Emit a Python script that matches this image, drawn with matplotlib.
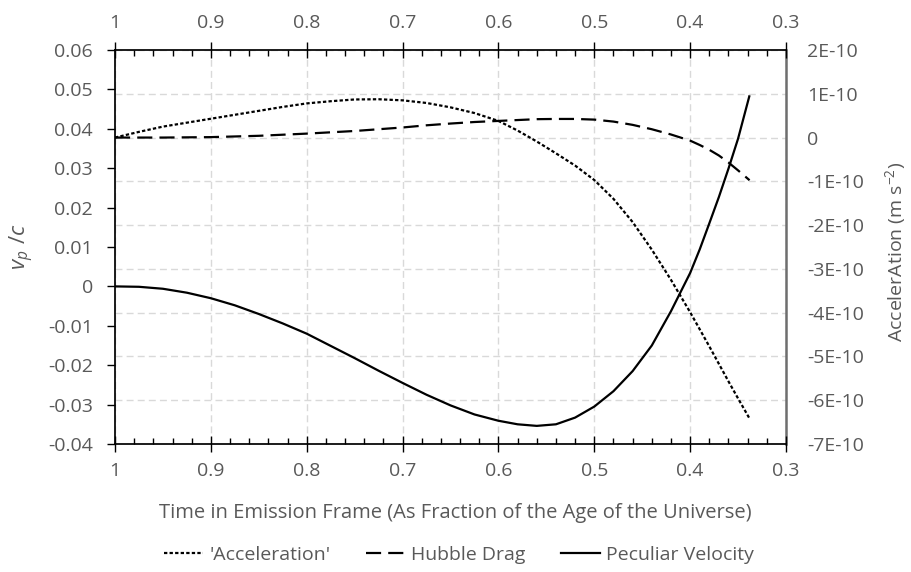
import numpy as np
import matplotlib
matplotlib.use("Agg")
import matplotlib.pyplot as plt
from matplotlib.ticker import FuncFormatter, MultipleLocator, FixedLocator
from matplotlib.lines import Line2D

# Time in the emission frame, as a fraction of the age of the universe
t_frac = [1.0, 0.975, 0.95, 0.925, 0.9, 0.875, 0.85, 0.825, 0.8, 0.775,
          0.75, 0.725, 0.7, 0.675, 0.65, 0.625, 0.6, 0.58, 0.56, 0.54,
          0.52, 0.5, 0.48, 0.46, 0.44, 0.42, 0.4, 0.39, 0.38, 0.37, 0.36,
          0.35, 0.338]

# Peculiar velocity v_p / c (left axis)
peculiar_velocity = [0.0, -0.0001, -0.0006, -0.0016, -0.0030, -0.0048,
                     -0.0070, -0.0094, -0.0120, -0.0151, -0.0182, -0.0214,
                     -0.0245, -0.0275, -0.0302, -0.0325, -0.0341, -0.0350,
                     -0.0354, -0.0350, -0.0333, -0.0305, -0.0266, -0.0215,
                     -0.0150, -0.0063, 0.0034, 0.0094, 0.0160, 0.0227,
                     0.0299, 0.0375, 0.0485]

# Accelerations in units of 1E-10 m s^-2 (right axis)
acceleration = [0.0, 0.13, 0.25, 0.34, 0.43, 0.52, 0.61, 0.70, 0.78, 0.83,
                0.87, 0.875, 0.85, 0.79, 0.69, 0.56, 0.38, 0.16, -0.09,
                -0.36, -0.64, -0.97, -1.40, -1.93, -2.56, -3.25, -3.99,
                -4.38, -4.77, -5.17, -5.57, -5.96, -6.42]
hubble_drag = [0.0, 0.0, 0.0, 0.005, 0.01, 0.025, 0.04, 0.065, 0.09, 0.12,
               0.15, 0.19, 0.23, 0.28, 0.32, 0.355, 0.38, 0.40, 0.42, 0.425,
               0.425, 0.41, 0.365, 0.29, 0.19, 0.07, -0.07, -0.17, -0.28,
               -0.41, -0.57, -0.75, -0.975]

x_ticks = [1.0, 0.9, 0.8, 0.7, 0.6, 0.5, 0.4, 0.3]
left_ticks = [-0.04, -0.03, -0.02, -0.01, 0.0, 0.01, 0.02, 0.03, 0.04, 0.05, 0.06]
right_ticks = [-7, -6, -5, -4, -3, -2, -1, 0, 1, 2]

plt.rcParams["font.family"] = ["Open Sans", "DejaVu Sans"]
plt.rcParams["mathtext.fontset"] = "custom"
plt.rcParams["mathtext.rm"] = "Open Sans"
plt.rcParams["mathtext.it"] = "Open Sans:italic"

TEXT = "#595959"
GRID = "#d9d9d9"
FS = 14

fig = plt.figure(figsize=(9.11, 5.72), dpi=100)
W, H = 911, 572
ax = fig.add_axes([115 / W, 1 - 444 / H, (786 - 115) / W, (444 - 50) / H])
ax2 = ax.twinx()
ax.set_zorder(ax2.get_zorder() + 1)
ax.patch.set_visible(False)

# Curves
lw = 1.6
ax2.plot(t_frac, acceleration, color="black", lw=lw, dashes=(1.5, 1.0),
         label="'Acceleration'")
ax2.plot(t_frac, hubble_drag, color="black", lw=lw, dashes=(6.8, 3.2),
         label="Hubble Drag")
ax.plot(t_frac, peculiar_velocity, color="black", lw=lw, solid_capstyle="butt",
        label="Peculiar Velocity")

# Limits
ax.set_xlim(1.0, 0.3)
ax.set_ylim(-0.04, 0.06)
ax2.set_ylim(-7, 2)

# X axis (bottom and top)
ax.xaxis.set_major_locator(FixedLocator(x_ticks))
ax.xaxis.set_minor_locator(MultipleLocator(0.02))
ax.xaxis.set_major_formatter(FuncFormatter(lambda v, p: f"{v:g}"))
ax.tick_params(axis="x", which="major", direction="inout", length=11.5, width=1,
               color="black", top=True, bottom=True, labeltop=True,
               labelbottom=True, labelsize=FS, labelcolor=TEXT, pad=7)
ax.tick_params(axis="x", which="minor", direction="in", length=4, width=1,
               color="black", top=True, bottom=True)

# Left Y axis
ax.yaxis.set_major_locator(FixedLocator(left_ticks))
ax.yaxis.set_major_formatter(
    FuncFormatter(lambda v, p: "0" if abs(v) < 1e-12 else f"{v:.2f}"))
ax.tick_params(axis="y", which="major", direction="out", length=5.8, width=1,
               color="black", labelsize=FS, labelcolor=TEXT, pad=10)

# Right Y axis
ax2.yaxis.set_major_locator(FixedLocator(right_ticks))
ax2.yaxis.set_major_formatter(
    FuncFormatter(lambda v, p: "0" if abs(v) < 1e-9 else f"{int(round(v))}E-10"))
ax2.tick_params(axis="y", which="major", length=0, labelsize=FS,
                labelcolor=TEXT, pad=15)

# Grid: verticals at x ticks, horizontals at right-axis ticks
ax2.xaxis.set_visible(True)
ax2.tick_params(axis="x", which="both", bottom=False, top=False,
                labelbottom=False, labeltop=False)
ax2.set_axisbelow(True)
ax2.grid(True, which="major", axis="both", color=GRID, lw=1,
         linestyle=(0, (5, 3)))

# Spines
for s in ["left", "top", "bottom"]:
    ax.spines[s].set_color("black")
    ax.spines[s].set_linewidth(1.25)
ax.spines["right"].set_visible(False)
for s in ["left", "top", "bottom"]:
    ax2.spines[s].set_visible(False)
ax2.spines["right"].set_color("#6e6e6e")
ax2.spines["right"].set_linewidth(1.8)

# Axis titles
fig.text(455.5 / W, 1 - 513 / H,
         "Time in Emission Frame (As Fraction of the Age of the Universe)",
         ha="center", va="center", fontsize=FS + 0.5, color=TEXT)
fig.text(22 / W, 1 - 247 / H, r"$v_p\ /c$", rotation=90, ha="center",
         va="center", fontsize=FS + 2, color=TEXT)
fig.text(896 / W, 1 - 252 / H, r"AccelerAtion (m s$^{-2}$)", rotation=90,
         ha="center", va="center", fontsize=FS, color=TEXT)

# Legend
handles = [
    Line2D([], [], color="black", lw=lw, dashes=(1.5, 1.0)),
    Line2D([], [], color="black", lw=lw, dashes=(6.8, 3.2)),
    Line2D([], [], color="black", lw=lw),
]
labels = ["'Acceleration'", "Hubble Drag", "Peculiar Velocity"]
leg = fig.legend(handles, labels, loc="center", ncol=3, frameon=False,
                 bbox_to_anchor=(459 / W, 1 - 555 / H), fontsize=FS,
                 handlelength=2.0, handletextpad=0.3, columnspacing=1.85)
for t in leg.get_texts():
    t.set_color(TEXT)

fig.savefig("out.png", dpi=100)
